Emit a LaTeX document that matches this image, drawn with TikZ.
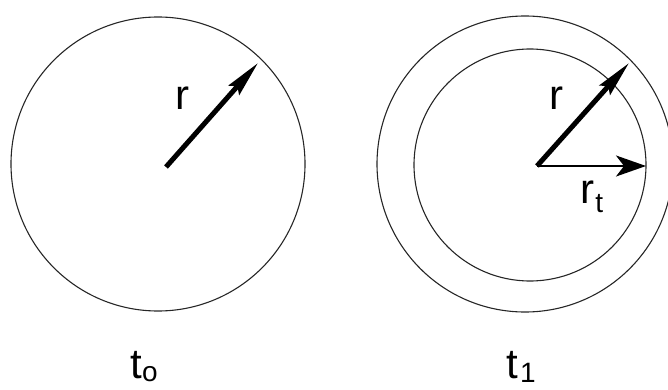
\documentclass[tikz,border=0pt]{standalone}
\usepackage{fontspec}
\setmainfont{Liberation Sans}
\usetikzlibrary{arrows.meta}
\newcommand{\lowsub}[2]{\raisebox{#1}{\fontsize{28}{30}\selectfont #2}}

\begin{document}
\begin{tikzpicture}[x=1pt,y=-1pt,
    rim/.style={draw=black!85,line width=1.1pt},
    bigarrow/.style={-{Stealth[length=36pt,width=14pt,inset=5pt]},line width=5pt},
    thinarrow/.style={-{Stealth[length=30pt,width=21pt,inset=8pt]},line width=2pt},
    lbl/.style={inner sep=0pt,font=\fontsize{42}{46}\selectfont}]
  \useasboundingbox (0,0) rectangle (668,390);
  \coordinate (c0) at (158,164);
  \coordinate (s0) at (166,167);
  \coordinate (tip0) at (258,63);
  \draw[rim] (c0) circle (147);
  \draw[bigarrow] (s0) -- (tip0);
  \node[lbl,anchor=base] (r0) at (182,110) {r};
  \node[lbl,anchor=base] (t0) at (144,378) {t\lowsub{-3pt}{o}};
  \coordinate (c1) at (525,164);
  \coordinate (c1in) at (530,165);
  \coordinate (s1) at (537,166);
  \coordinate (tip1) at (629,63);
  \coordinate (tipt) at (646,166);
  \draw[rim] (c1) circle (148);
  \draw[rim] (c1in) circle (116);
  \draw[bigarrow] (s1) -- (tip1);
  \draw[thinarrow] (s1) -- (tipt);
  \node[lbl,anchor=base] (r1) at (556,110) {r};
  \node[lbl,anchor=base] (rt) at (592,203) {r\kern0.5pt\lowsub{-9pt}{t}};
  \node[lbl,anchor=base] (t1) at (521,378) {t\kern2pt\lowsub{-4pt}{1}};
\end{tikzpicture}
\end{document}
